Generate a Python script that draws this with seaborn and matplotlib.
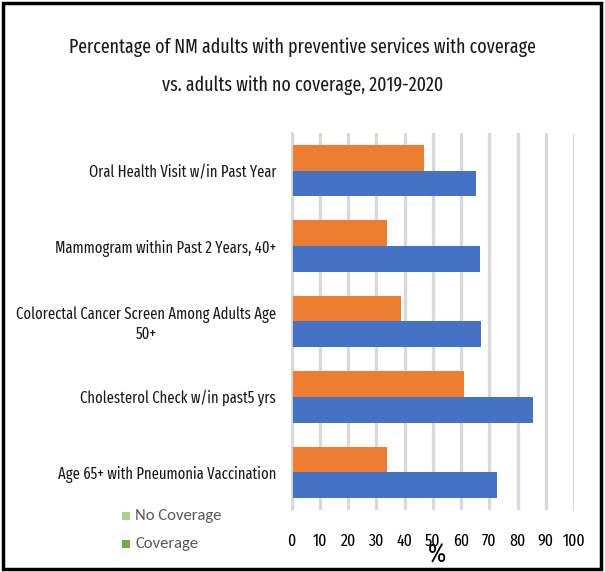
import matplotlib
matplotlib.use("Agg")
import matplotlib.pyplot as plt
from matplotlib import font_manager
from matplotlib.patches import Rectangle
import seaborn as sns
import pandas as pd

categories = [
    "Oral Health Visit w/in Past Year",
    "Mammogram within Past 2 Years, 40+",
    "Colorectal Cancer Screen Among Adults Age\n50+",
    "Cholesterol Check w/in past5 yrs",
    "Age 65+ with Pneumonia Vaccination",
]
no_coverage = [47.0, 33.9, 38.7, 61.2, 33.9]
coverage = [65.4, 66.8, 67.2, 85.6, 72.7]
x_ticks = [0, 10, 20, 30, 40, 50, 60, 70, 80, 90, 100]
series_names = ["No Coverage", "Coverage"]
title_lines = [
    "Percentage of NM adults with preventive services with coverage",
    "vs. adults with no coverage, 2019-2020",
]

df = pd.DataFrame({
    "Service": categories * 2,
    "Percent": no_coverage + coverage,
    "Group": [series_names[0]] * len(categories) + [series_names[1]] * len(categories),
})

sns.set_theme(style="white")
names = {f.name for f in font_manager.fontManager.ttflist}
narrow = next((n for n in ["Fira Sans Extra Condensed", "Saira ExtraCondensed",
                           "PT Sans Narrow", "Roboto Condensed"] if n in names), "DejaVu Sans")
body = "Carlito" if "Carlito" in names else "DejaVu Sans"
plt.rcParams["font.family"] = [narrow, "DejaVu Sans"]

W, H = 605, 572
fig = plt.figure(figsize=(W / 100, H / 100), dpi=100)
renderer = fig.canvas.get_renderer()


def fit_size(text_artist, target_px):
    """Rescale a text's font size so that its rendered width equals target_px."""
    w = text_artist.get_window_extent(renderer).width
    text_artist.set_fontsize(text_artist.get_fontsize() * target_px / w)
    return text_artist.get_fontsize()


ax = fig.add_axes([291.5 / W, 1 - 510 / H, (574 - 291.5) / W, (510 - 133) / H])

sns.barplot(
    data=df, y="Service", x="Percent", hue="Group", hue_order=series_names,
    palette=["#ED7D31", "#4472C4"], orient="h", width=0.68, ax=ax,
    legend=False, edgecolor="none", saturation=1,
)

ax.set_xlim(0, 100)
ax.set_ylim(len(categories) - 0.5, -0.5)
ax.set_xlabel("")
ax.set_ylabel("")
ax.xaxis.grid(True, color="#d9d9d9", linewidth=2.4)
ax.set_axisbelow(True)

# fit label sizes to their printed widths
probe = fig.text(0, 0, categories[0], fontsize=12)
cat_size = fit_size(probe, 189)
probe.set_text("100")
probe.set_fontsize(12)
tick_size = fit_size(probe, 23)
probe.remove()

ax.set_xticks(x_ticks)
ax.set_xticklabels([str(t) for t in x_ticks], fontsize=tick_size, color="black")
ax.tick_params(axis="x", length=0, pad=17)

ax.set_yticks(range(len(categories)))
ax.set_yticklabels(categories, fontsize=cat_size, color="#1a1a1a")
ax.tick_params(axis="y", length=0, pad=11)
for lbl in ax.get_yticklabels():
    lbl.set_multialignment("center")
ax.set_yticks([i - 0.5 for i in range(len(categories) + 1)], minor=True)
ax.tick_params(axis="y", which="minor", length=5, color="#d9d9d9", width=1.3)

for side in ["top", "right", "bottom"]:
    ax.spines[side].set_visible(False)
ax.spines["left"].set_color("#d9d9d9")
ax.spines["left"].set_linewidth(1.3)

t1 = fig.text(0.5, 1 - 47 / H, title_lines[0], ha="center", va="center",
              fontsize=14, color="#1a1a1a")
title_size = fit_size(t1, 467)
fig.text(0.5, 1 - 85 / H, title_lines[1], ha="center", va="center",
         fontsize=title_size, color="#1a1a1a")

fig.text(437 / W, 1 - 555 / H, "%", ha="center", va="center", fontsize=19, color="black")

# legend entries at lower left
legend_colors = ["#A9D18E", "#70AD47"]
legend_y = [516, 544]
for name, col, yy in zip(series_names, legend_colors, legend_y):
    fig.patches.append(Rectangle((122 / W, 1 - (yy + 4) / H), 8 / W, 8 / H,
                                 transform=fig.transFigure, facecolor=col, edgecolor="none"))
    fig.text(135 / W, 1 - yy / H, name, ha="left", va="center", fontsize=12,
             color="#595959", family=[body, "DejaVu Sans"])

# outer frame
fig.patches.append(Rectangle((3 / W, 3.5 / H), 598 / W, 565.5 / H, transform=fig.transFigure,
                             facecolor="none", edgecolor="black", linewidth=2.5))

fig.savefig("out.png", dpi=100)
